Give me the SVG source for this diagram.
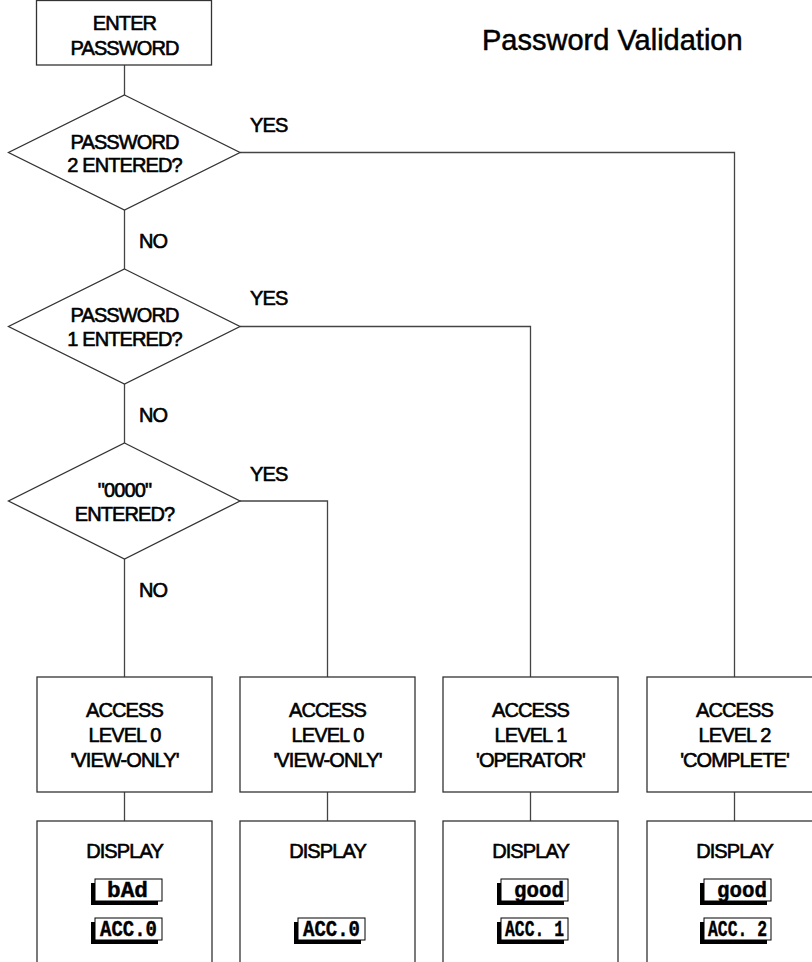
<svg xmlns="http://www.w3.org/2000/svg" width="812" height="962" viewBox="0 0 812 962">
<style>
.shape{fill:#fff;stroke:#333;stroke-width:1.3}
.conn line,.conn polyline{fill:none;stroke:#444;stroke-width:1.3}
.t{font-family:"Liberation Sans",Arial,Helvetica,sans-serif;font-size:20px;letter-spacing:-0.9px;fill:#000;stroke:#000;stroke-width:0.6px;text-anchor:middle}
.lbl{font-family:"Liberation Sans",Arial,Helvetica,sans-serif;font-size:20px;letter-spacing:-0.9px;fill:#000;stroke:#000;stroke-width:0.6px}
.title{font-family:"Liberation Sans",Arial,Helvetica,sans-serif;font-size:29px;fill:#000;stroke:#000;stroke-width:0.5px}
.sh{fill:#000}
.bw{fill:#fff;stroke:#000;stroke-width:1}
.m{font-family:"Liberation Mono","Courier New",monospace;font-weight:bold;font-size:22px;fill:#000;stroke:#000;stroke-width:0.4px}
</style>
<rect width="812" height="962" fill="#fff"/>
<text class="title" x="482" y="50">Password Validation</text>
<g class="conn" id="connectors">
<line x1="124.5" y1="65" x2="124.5" y2="95"/>
<line x1="124.5" y1="210" x2="124.5" y2="269"/>
<line x1="124.5" y1="384" x2="124.5" y2="443"/>
<line x1="124.5" y1="559" x2="124.5" y2="677"/>
<polyline points="240,152.5 734.5,152.5 734.5,677"/>
<polyline points="240,326.5 530.5,326.5 530.5,677"/>
<polyline points="240,501 327.5,501 327.5,677"/>
<line x1="124.5" y1="792" x2="124.5" y2="821"/>
<line x1="327.5" y1="792" x2="327.5" y2="821"/>
<line x1="530.5" y1="792" x2="530.5" y2="821"/>
<line x1="734.5" y1="792" x2="734.5" y2="821"/>
<text class="lbl" x="250" y="132">YES</text>
<text class="lbl" x="139" y="248">NO</text>
<text class="lbl" x="250" y="305">YES</text>
<text class="lbl" x="139" y="422">NO</text>
<text class="lbl" x="250" y="481">YES</text>
<text class="lbl" x="139" y="597">NO</text>
</g>
<g id="enter">
<rect class="shape" x="36.5" y="0.5" width="175" height="64.5"/>
<text class="t" x="124.5" y="30">ENTER</text>
<text class="t" x="124.5" y="55">PASSWORD</text>
</g>
<g id="dec1">
<polygon class="shape" points="124.5,95 240,152.5 124.5,210 8.5,152.5"/>
<text class="t" x="124.5" y="148.5">PASSWORD</text>
<text class="t" x="124.5" y="172">2 ENTERED?</text>
</g>
<g id="dec2">
<polygon class="shape" points="124.5,269 240,326.5 124.5,384 8.5,326.5"/>
<text class="t" x="124.5" y="322">PASSWORD</text>
<text class="t" x="124.5" y="346">1 ENTERED?</text>
</g>
<g id="dec3">
<polygon class="shape" points="124.5,443 240,501 124.5,559 8.5,501"/>
<text class="t" x="124.5" y="497">"0000"</text>
<text class="t" x="124.5" y="521">ENTERED?</text>
</g>
<g id="acc0a">
<rect class="shape" x="37" y="677" width="175" height="115"/>
<text class="t" x="124.5" y="717">ACCESS</text>
<text class="t" x="124.5" y="742">LEVEL 0</text>
<text class="t" x="124.5" y="767">'VIEW-ONLY'</text>
</g>
<g id="acc0b">
<rect class="shape" x="240" y="677" width="175" height="115"/>
<text class="t" x="327.5" y="717">ACCESS</text>
<text class="t" x="327.5" y="742">LEVEL 0</text>
<text class="t" x="327.5" y="767">'VIEW-ONLY'</text>
</g>
<g id="acc1">
<rect class="shape" x="443" y="677" width="175" height="115"/>
<text class="t" x="530.5" y="717">ACCESS</text>
<text class="t" x="530.5" y="742">LEVEL 1</text>
<text class="t" x="530.5" y="767">'OPERATOR'</text>
</g>
<g id="acc2">
<rect class="shape" x="647" y="677" width="175" height="115"/>
<text class="t" x="734.5" y="717">ACCESS</text>
<text class="t" x="734.5" y="742">LEVEL 2</text>
<text class="t" x="734.5" y="767">'COMPLETE'</text>
</g>
<g id="disp0a">
<rect class="shape" x="37" y="821" width="175" height="160"/>
<text class="t" x="124.5" y="858">DISPLAY</text>
<rect class="sh" x="91" y="883" width="67" height="22"/>
<rect class="bw" x="95" y="879" width="67" height="22"/>
<text class="m" x="107" y="897" textLength="41" lengthAdjust="spacingAndGlyphs">bAd</text>
<rect class="sh" x="91" y="922" width="67" height="22"/>
<rect class="bw" x="95" y="918" width="67" height="22"/>
<text class="m" x="100" y="936" textLength="57" lengthAdjust="spacingAndGlyphs">ACC.0</text>
</g>
<g id="disp0b">
<rect class="shape" x="240" y="821" width="175" height="160"/>
<text class="t" x="327.5" y="858">DISPLAY</text>
<rect class="sh" x="294" y="922" width="67" height="22"/>
<rect class="bw" x="298" y="918" width="67" height="22"/>
<text class="m" x="303" y="936" textLength="57" lengthAdjust="spacingAndGlyphs">ACC.0</text>
</g>
<g id="disp1">
<rect class="shape" x="443" y="821" width="175" height="160"/>
<text class="t" x="530.5" y="858">DISPLAY</text>
<rect class="sh" x="497" y="883" width="67" height="22"/>
<rect class="bw" x="501" y="879" width="67" height="22"/>
<text class="m" x="514" y="897" textLength="50" lengthAdjust="spacingAndGlyphs">good</text>
<rect class="sh" x="497" y="922" width="67" height="22"/>
<rect class="bw" x="501" y="918" width="67" height="22"/>
<text class="m" x="505" y="936" textLength="59" lengthAdjust="spacingAndGlyphs">ACC. 1</text>
</g>
<g id="disp2">
<rect class="shape" x="647" y="821" width="175" height="160"/>
<text class="t" x="734.5" y="858">DISPLAY</text>
<rect class="sh" x="700" y="883" width="67" height="22"/>
<rect class="bw" x="704" y="879" width="67" height="22"/>
<text class="m" x="717" y="897" textLength="50" lengthAdjust="spacingAndGlyphs">good</text>
<rect class="sh" x="700" y="922" width="67" height="22"/>
<rect class="bw" x="704" y="918" width="67" height="22"/>
<text class="m" x="708" y="936" textLength="59" lengthAdjust="spacingAndGlyphs">ACC. 2</text>
</g>
</svg>
